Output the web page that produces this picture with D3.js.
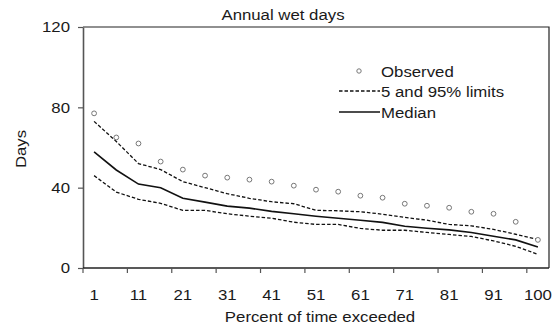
<!DOCTYPE html>
<html>
<head>
<meta charset="utf-8">
<script src="https://cdn.jsdelivr.net/npm/d3@7"></script>
<style>
  html, body { margin: 0; padding: 0; background: #fff; }
  svg { display: block; }
  text { font-family: "Liberation Sans", Arial, sans-serif; fill: #1a1a1a; }
</style>
</head>
<body>
<svg id="chart" width="554" height="328"></svg>
<script>
// ---- data ----
const percents = [1, 6, 11, 16, 21, 26, 31, 36, 41, 46, 51, 56, 61, 66, 71, 76, 81, 86, 91, 96, 100];
const observed = [77, 65, 62, 53, 49, 46, 45, 44, 43, 41, 39, 38, 36, 35, 32, 31, 30, 28, 27, 23, 14];
const upper95  = [73, 63, 52, 49, 43, 40, 37, 34.7, 33, 32, 28.7, 28.5, 28, 26.8, 25.2, 23.8, 21.7, 21, 19.2, 16.8, 14.2];
const median   = [57.8, 48.8, 41.8, 40, 34.7, 32.8, 30.8, 29.8, 28.2, 27, 25.8, 24.8, 23.8, 22.7, 20.8, 19.8, 19, 17.7, 15.8, 14, 10.5];
const lower5   = [46, 37.8, 34.2, 32.2, 28.7, 28.7, 27, 25.8, 24.8, 22.8, 21.7, 21.7, 19.7, 18.8, 18.8, 17.7, 16.7, 15.7, 13.5, 10.8, 6.8];
const xTickLabels = ["1", "11", "21", "31", "41", "51", "61", "71", "81", "91", "100"];
const yTicks = [0, 40, 80, 120];
const legendLabels = ["Observed", "5 and 95% limits", "Median"];
const title = "Annual wet days";
const xTitle = "Percent of time exceeded";
const yTitle = "Days";

// ---- layout ----
const L = 83, R = 549, T = 27, B = 268;
const FS = 15, SX = 1.12;
const svg = d3.select("#chart");

const x = d3.scaleBand().domain(percents.map(String)).range([L, R]).padding(0);
const y = d3.scaleLinear().domain([0, 120]).range([B, T]);
const cx = p => x(String(p)) + x.bandwidth() / 2;

function stretchedText(g, xPos, yPos, str, anchor, rotate) {
  const t = g.append("text")
    .attr("transform", `translate(${xPos},${yPos})` + (rotate ? ` rotate(${rotate})` : "") + ` scale(${SX},1)`)
    .attr("text-anchor", anchor)
    .style("font-size", FS + "px")
    .text(str);
  return t;
}

// plot frame (top and right)
svg.append("path")
  .attr("d", `M${L},${T}H${R}V${B}`)
  .attr("fill", "none").attr("stroke", "#222").attr("stroke-width", 1.2);

// y axis
const yAxis = svg.append("g")
  .attr("transform", `translate(${L},0)`)
  .call(d3.axisLeft(y).tickValues(yTicks).tickSize(5).tickSizeOuter(0).tickFormat(d3.format("d")));
yAxis.select(".domain").attr("stroke", "#555").attr("stroke-width", 1.6);
yAxis.selectAll(".tick line").attr("stroke", "#555").attr("stroke-width", 1.2);
yAxis.selectAll(".tick text").remove();
yAxis.selectAll(".tick").each(function(d) {
  stretchedText(svg, L - 13, y(d) + 5.3, String(d), "end");
});

// x axis
const labeledIdx = xTickLabels.map(l => percents.indexOf(+l));
svg.append("line")
  .attr("x1", L).attr("x2", R).attr("y1", B).attr("y2", B)
  .attr("stroke", "#222").attr("stroke-width", 1.6);
svg.append("g").selectAll("line")
  .data(labeledIdx)
  .join("line")
  .attr("x1", i => x(String(percents[i]))).attr("x2", i => x(String(percents[i])))
  .attr("y1", B).attr("y2", B + 5)
  .attr("stroke", "#555").attr("stroke-width", 1.2);
xTickLabels.forEach(l => stretchedText(svg, cx(+l), 300, l, "middle"));

// titles
stretchedText(svg, 283, 19.5, title, "middle");
stretchedText(svg, 320, 321.5, xTitle, "middle");
stretchedText(svg, 26, 149, yTitle, "middle", -90);

// lines
const lineGen = arr => d3.line().x((d, i) => cx(percents[i])).y(d => y(d))(arr);
svg.append("path").attr("d", lineGen(upper95)).attr("fill", "none")
  .attr("stroke", "#111").attr("stroke-width", 1.3).attr("stroke-dasharray", "3.5,2");
svg.append("path").attr("d", lineGen(lower5)).attr("fill", "none")
  .attr("stroke", "#111").attr("stroke-width", 1.3).attr("stroke-dasharray", "3.5,2");
svg.append("path").attr("d", lineGen(median)).attr("fill", "none")
  .attr("stroke", "#111").attr("stroke-width", 1.6);

// observed points
svg.append("g").selectAll("circle")
  .data(observed)
  .join("circle")
  .attr("cx", (d, i) => cx(percents[i]))
  .attr("cy", d => y(d))
  .attr("r", 2.4)
  .attr("fill", "#fff").attr("stroke", "#777").attr("stroke-width", 1);

// legend
const lg = svg.append("g");
lg.append("circle").attr("cx", 359).attr("cy", 71).attr("r", 2.2)
  .attr("fill", "#fff").attr("stroke", "#777").attr("stroke-width", 1);
lg.append("line").attr("x1", 339).attr("x2", 380).attr("y1", 91).attr("y2", 91)
  .attr("stroke", "#111").attr("stroke-width", 1.3).attr("stroke-dasharray", "3.5,2");
lg.append("line").attr("x1", 339).attr("x2", 380).attr("y1", 112).attr("y2", 112)
  .attr("stroke", "#111").attr("stroke-width", 1.6);
legendLabels.forEach((l, i) => stretchedText(lg, 381, 77 + i * 20.3, l, "start"));
</script>
</body>
</html>
